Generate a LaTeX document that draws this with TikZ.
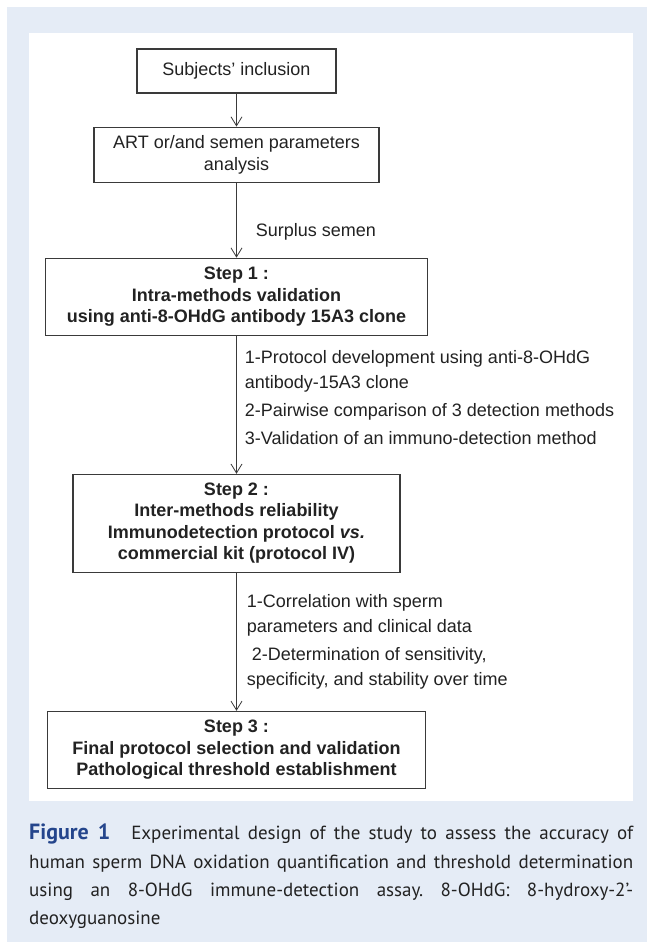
\documentclass[tikz,border=0pt]{standalone}
\usepackage{fontspec}
\setmainfont{Liberation Sans}
\newfontfamily\capfont{PT Sans}
\usepackage{xcolor}
\usepackage{tikz}
\usetikzlibrary{positioning, arrows.meta}
\definecolor{panelblue}{HTML}{E5ECF6}
\definecolor{figblue}{HTML}{24458C}
\definecolor{ink}{HTML}{222222}
\definecolor{boxline}{HTML}{3A3A3A}
\newcommand{\boxfont}{\fontsize{18bp}{21.5bp}\selectfont}
\newcommand{\notefont}{\fontsize{18bp}{25bp}\selectfont}
\newcommand{\capsize}{\capfont\fontsize{19bp}{28.3bp}\selectfont\frenchspacing}

\begin{document}
\begin{tikzpicture}[
  x=1bp, y=-1bp,
  every node/.style={font=\boxfont, text=ink},
  component/.style={
    draw=boxline,
    line width=1.1bp,
    align=center,
    inner sep=0pt,
  },
  stepbox/.style={
    component,
    font=\boxfont\bfseries,
  },
  link/.style={
    -{Straight Barb[length=9bp, width=11bp, line width=0.8bp]},
    line width=0.8bp,
    draw=boxline,
  },
  arrowlabel/.style={
    font=\notefont,
    align=left,
    inner sep=0pt,
    anchor=west,
  },
  caption/.style={
    font=\capsize,
    text width=604bp,
    align=justify,
    inner sep=0pt,
  },
]
  \useasboundingbox (0,0) rectangle (647,942);
  % page panels
  \fill[panelblue] (7,7) rectangle (647,942);
  \fill[white] (29,33) rectangle (633,801);

  \node[component, minimum width=199bp, minimum height=44bp] (subjects) at (236.5,71) {Subjects’ inclusion};
  \node[component, minimum width=285bp, minimum height=55bp, below=33bp of subjects] (analysis) {ART or/and semen parameters\\ analysis};
  \node[stepbox, minimum width=382bp, minimum height=77bp, below=75bp of analysis] (stepone) {Step 1 :\\ Intra-methods validation\\ using anti-8-OHdG antibody 15A3 clone};
  \node[stepbox, minimum width=327bp, minimum height=98bp, below=138bp of stepone] (steptwo) {Step 2 :\\ Inter-methods reliability\\ Immunodetection protocol \textit{vs.}\\ commercial kit (protocol IV)};
  \node[stepbox, minimum width=378bp, minimum height=77bp, below=138bp of steptwo] (stepthree) {Step 3 :\\ Final protocol selection and validation\\ Pathological threshold establishment};

  \draw[link] (subjects) -- (analysis);
  \draw[link] (analysis) -- node[arrowlabel, pos=0.65, xshift=19bp]{Surplus semen} (stepone);
  \draw[link] (stepone) -- node[arrowlabel, pos=0.45, xshift=8bp]{1-Protocol development using anti-8-OHdG\\ antibody-15A3 clone\\[3bp] 2-Pairwise comparison of 3 detection methods\\[3bp] 3-Validation of an immuno-detection method} (steptwo);
  \draw[link] (steptwo) -- node[arrowlabel, pos=0.5, xshift=10bp]{1-Correlation with sperm\\ parameters and clinical data\\[3bp] \ 2-Determination of sensitivity,\\ specificity, and stability over time} (stepthree);

  \node[caption, anchor=north west] (legend) at (29,824) {{\fontsize{22bp}{28bp}\selectfont\bfseries\color{figblue}Figure 1}\hspace{1.1em}Experimental design of the study to assess the accuracy of\linebreak human sperm DNA oxidation quantification and threshold determination\linebreak using an 8-OHdG immune-detection assay. 8-OHdG: 8-hydroxy-2’-\linebreak deoxyguanosine};
\end{tikzpicture}
\end{document}
